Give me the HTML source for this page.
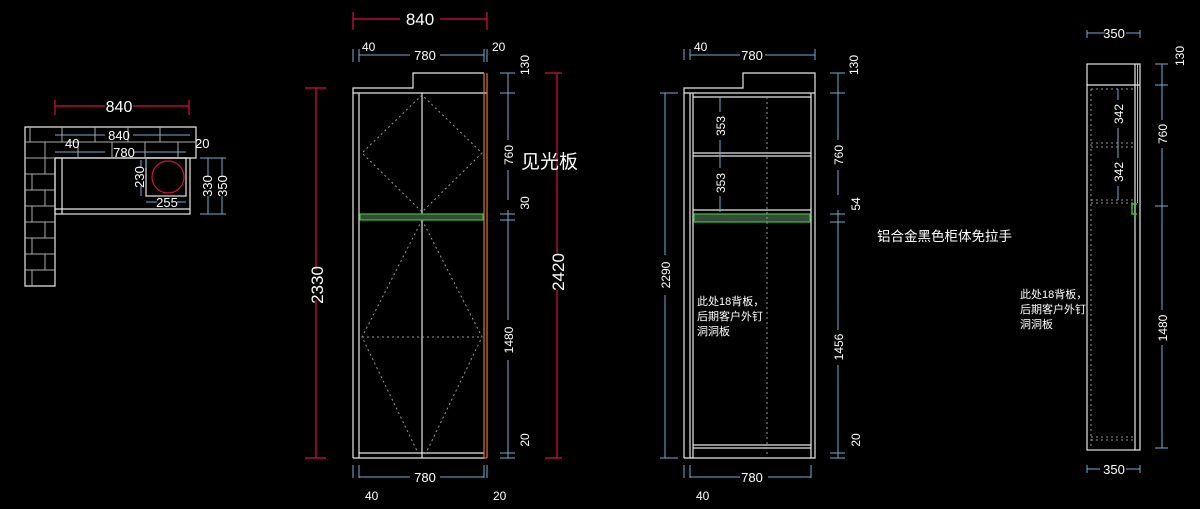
<!DOCTYPE html>
<html><head><meta charset="utf-8"><style>
html,body{margin:0;padding:0;background:#000;}
svg{display:block}
text{font-family:"Liberation Sans","Noto Sans CJK SC",sans-serif;fill:#fff}
.w{stroke:#e6e6e6;stroke-width:1.2;fill:none}
.g{stroke:#aaa;stroke-width:1;fill:none}
.d{stroke:#999;stroke-width:1;stroke-dasharray:2 3;fill:none}
.b{stroke:#6fb0d2;stroke-width:1;fill:none}
.r{stroke:#d4103c;stroke-width:1.2;fill:none}
.o{stroke:#d87a2a;stroke-width:1.2;fill:none}
</style></head><body>
<svg width="1200" height="509" viewBox="0 0 1200 509" xmlns="http://www.w3.org/2000/svg">
<!-- PLAN VIEW -->
<g class="w">
<path d="M25 127 H196 V158 H55 V286 H25 Z"/>
<rect x="55" y="158" width="135" height="56"/>
<line x1="62" y1="158" x2="62" y2="214"/>
<line x1="55" y1="209" x2="190" y2="209"/>
<rect x="146" y="158" width="40" height="38"/>
</g>
<g class="g">
<path d="M25 142H196 M25 158H55 M25 174H55 M25 190H55 M25 206H55 M25 222H55 M25 238H55 M25 254H55 M25 270H55"/>
<path d="M30 127V142 M62 127V142 M95 127V142 M128 127V142 M160 127V142 M45 142V158 M78 142V158 M112 142V158 M145 142V158 M178 142V158"/>
<path d="M45 158V174 M32 174V190 M45 190V206 M32 206V222 M45 222V238 M32 238V254 M45 254V270 M32 270V286"/>
</g>
<circle cx="168" cy="177" r="16" fill="none" stroke="#d4103c" stroke-width="1.2"/>
<g class="r"><path d="M55 100V115 M189 100V115 M55 106H105 M133 106H189"/></g>
<text x="119" y="112" font-size="16" text-anchor="middle">840</text>
<g class="b">
<path d="M55 135H105 M133 135H190 M55 152H105 M133 152H186 M146 158V168 M141 160V168 M141 186V196 M146 202H157 M177 202H186 M208 158V176 M208 196V214 M222 158V176 M222 196V214 M200 158H226 M200 214H226"/>
</g>
<text x="119" y="140" font-size="13" text-anchor="middle">840</text>
<text x="65" y="148" font-size="13">40</text>
<text x="124" y="157" font-size="13" text-anchor="middle">780</text>
<text x="195" y="148" font-size="13">20</text>
<text x="167" y="207" font-size="13" text-anchor="middle">255</text>
<text transform="translate(144,177) rotate(-90)" font-size="13" text-anchor="middle">230</text>
<text transform="translate(212,186) rotate(-90)" font-size="13" text-anchor="middle">330</text>
<text transform="translate(227,186) rotate(-90)" font-size="13" text-anchor="middle">350</text>

<!-- ELEVATION 1 -->
<g class="w">
<path d="M353 458V88H413V73H484"/>
<line x1="353" y1="93" x2="487" y2="93"/>
<line x1="359" y1="93" x2="359" y2="458"/>
<line x1="422" y1="93" x2="422" y2="458"/>
<line x1="353" y1="458" x2="484" y2="458"/>
<line x1="359" y1="453" x2="484" y2="453"/>
</g>
<g class="o"><path d="M484 73V458 M487 73V458 M484 458H487"/></g>
<rect x="360" y="214" width="123" height="6" fill="#3a4a3a" stroke="#2ec82e" stroke-width="1.2"/>
<g class="d">
<path d="M422 95L362 153L422 212L482 153Z"/>
<path d="M422 220L362 337L418 453 M422 220L482 337L426 453 M362 337H482"/>
</g>
<g class="r">
<path d="M353 12V30 M487 12V30 M353 19H400 M440 19H487"/>
<path d="M316 88V270 M316 300V458 M305 88H326 M305 458H326"/>
<path d="M557 73V255 M557 290V458 M545 73H562 M545 458H562"/>
</g>
<text x="420" y="25" font-size="17" text-anchor="middle">840</text>
<text transform="translate(323,285) rotate(-90)" font-size="17" text-anchor="middle">2330</text>
<text transform="translate(564,272) rotate(-90)" font-size="17" text-anchor="middle">2420</text>
<g class="b">
<path d="M353 49V62 M359 49V62 M484 49V62 M487 49V62 M359 55H410 M440 55H484"/>
<path d="M508 73V140 M508 170V200 M508 210V320 M508 360V458 M500 73H515 M500 93H515 M500 214H515 M500 220H515 M500 453H515 M500 458H515"/>
<path d="M353 465V478 M359 465V478 M484 465V478 M487 465V478 M359 477H410 M440 477H484"/>
</g>
<text x="362" y="51" font-size="12">40</text>
<text x="425" y="60" font-size="13" text-anchor="middle">780</text>
<text x="492" y="51" font-size="12">20</text>
<text x="425" y="482" font-size="13" text-anchor="middle">780</text>
<text x="365" y="500" font-size="12">40</text>
<text x="493" y="500" font-size="12">20</text>
<text transform="translate(529,65) rotate(-90)" font-size="12" text-anchor="middle">130</text>
<text transform="translate(513,155) rotate(-90)" font-size="12" text-anchor="middle">760</text>
<text transform="translate(529,203) rotate(-90)" font-size="12" text-anchor="middle">30</text>
<text transform="translate(513,340) rotate(-90)" font-size="12" text-anchor="middle">1480</text>
<text transform="translate(529,440) rotate(-90)" font-size="12" text-anchor="middle">20</text>
<text x="521" y="168" font-size="19">见光板</text>

<!-- ELEVATION 2 -->
<g class="w">
<path d="M684 458V88H743V73H815V458H684"/>
<line x1="684" y1="93" x2="815" y2="93"/>
<line x1="690" y1="93" x2="690" y2="458"/>
<line x1="693" y1="93" x2="693" y2="458"/>
<line x1="811" y1="93" x2="811" y2="458"/>
<path d="M693 97H811 M693 153H811 M693 156H811 M693 210H811 M693 445H811 M693 448H811"/>
</g>
<rect x="694" y="214" width="116" height="8" fill="#3a4a3a" stroke="#2ec82e" stroke-width="1.2"/>
<line class="d" x1="767" y1="97" x2="767" y2="458"/>
<g class="b">
<path d="M684 49V60 M690 49V60 M815 49V60 M690 55H740 M765 55H815"/>
<path d="M720 97V112 M720 140V168 M720 196V212"/>
<path d="M838 73V140 M838 170V195 M838 210V330 M838 365V458 M830 73H845 M830 93H845 M830 214H845 M830 222H845 M830 453H845 M830 458H845"/>
<path d="M665 93V255 M665 295V458 M660 93H678 M660 458H678"/>
<path d="M684 465V478 M690 465V478 M811 465V478 M690 477H740 M768 477H811"/>
</g>
<text x="694" y="51" font-size="12">40</text>
<text x="752" y="60" font-size="13" text-anchor="middle">780</text>
<text x="752" y="482" font-size="13" text-anchor="middle">780</text>
<text x="696" y="500" font-size="12">40</text>
<text transform="translate(725,126) rotate(-90)" font-size="12" text-anchor="middle">353</text>
<text transform="translate(725,183) rotate(-90)" font-size="12" text-anchor="middle">353</text>
<text transform="translate(858,65) rotate(-90)" font-size="12" text-anchor="middle">130</text>
<text transform="translate(843,155) rotate(-90)" font-size="12" text-anchor="middle">760</text>
<text transform="translate(860,204) rotate(-90)" font-size="12" text-anchor="middle">54</text>
<text transform="translate(843,347) rotate(-90)" font-size="12" text-anchor="middle">1456</text>
<text transform="translate(860,440) rotate(-90)" font-size="12" text-anchor="middle">20</text>
<text transform="translate(670,275) rotate(-90)" font-size="12" text-anchor="middle">2290</text>
<text x="697" y="305" font-size="11">此处18背板，</text>
<text x="697" y="320" font-size="11">后期客户外钉</text>
<text x="697" y="335" font-size="11">洞洞板</text>
<text x="877" y="241" font-size="13.5">铝合金黑色柜体免拉手</text>

<!-- SIDE VIEW -->
<g class="w">
<rect x="1087" y="64" width="53" height="386"/>
<line x1="1087" y1="85" x2="1140" y2="85"/>
<line x1="1135" y1="64" x2="1135" y2="450"/>
<line x1="1137.5" y1="64" x2="1137.5" y2="203" stroke-width="0.8"/>
</g>
<g class="d">
<path d="M1091 89V447 M1091 89H1133 M1091 143H1134 M1091 147H1134 M1091 200H1134 M1091 203H1134 M1091 437H1134 M1091 440H1134"/>
</g>
<path d="M1137 204H1132V214H1137" fill="none" stroke="#2ec82e" stroke-width="1.5"/>
<g class="b">
<path d="M1087 30V38 M1140 30V38 M1087 33H1105 M1126 33H1140"/>
<path d="M1087 465V473 M1140 465V473 M1087 469H1100 M1126 469H1140"/>
<path d="M1118 89V100 M1118 128V158 M1118 186V200"/>
<path d="M1162 64V120 M1162 148V310 M1162 345V448 M1155 64H1168 M1155 85H1168 M1155 206H1168 M1155 448H1168"/>
</g>
<text x="1114" y="38" font-size="13" text-anchor="middle">350</text>
<text x="1114" y="474" font-size="13" text-anchor="middle">350</text>
<text transform="translate(1123,114) rotate(-90)" font-size="12" text-anchor="middle">342</text>
<text transform="translate(1123,172) rotate(-90)" font-size="12" text-anchor="middle">342</text>
<text transform="translate(1184,56) rotate(-90)" font-size="12" text-anchor="middle">130</text>
<text transform="translate(1167,134) rotate(-90)" font-size="12" text-anchor="middle">760</text>
<text transform="translate(1167,328) rotate(-90)" font-size="12" text-anchor="middle">1480</text>
<text x="1020" y="298" font-size="11">此处18背板，</text>
<text x="1020" y="313" font-size="11">后期客户外钉</text>
<text x="1020" y="328" font-size="11">洞洞板</text>
</svg>
</body></html>
